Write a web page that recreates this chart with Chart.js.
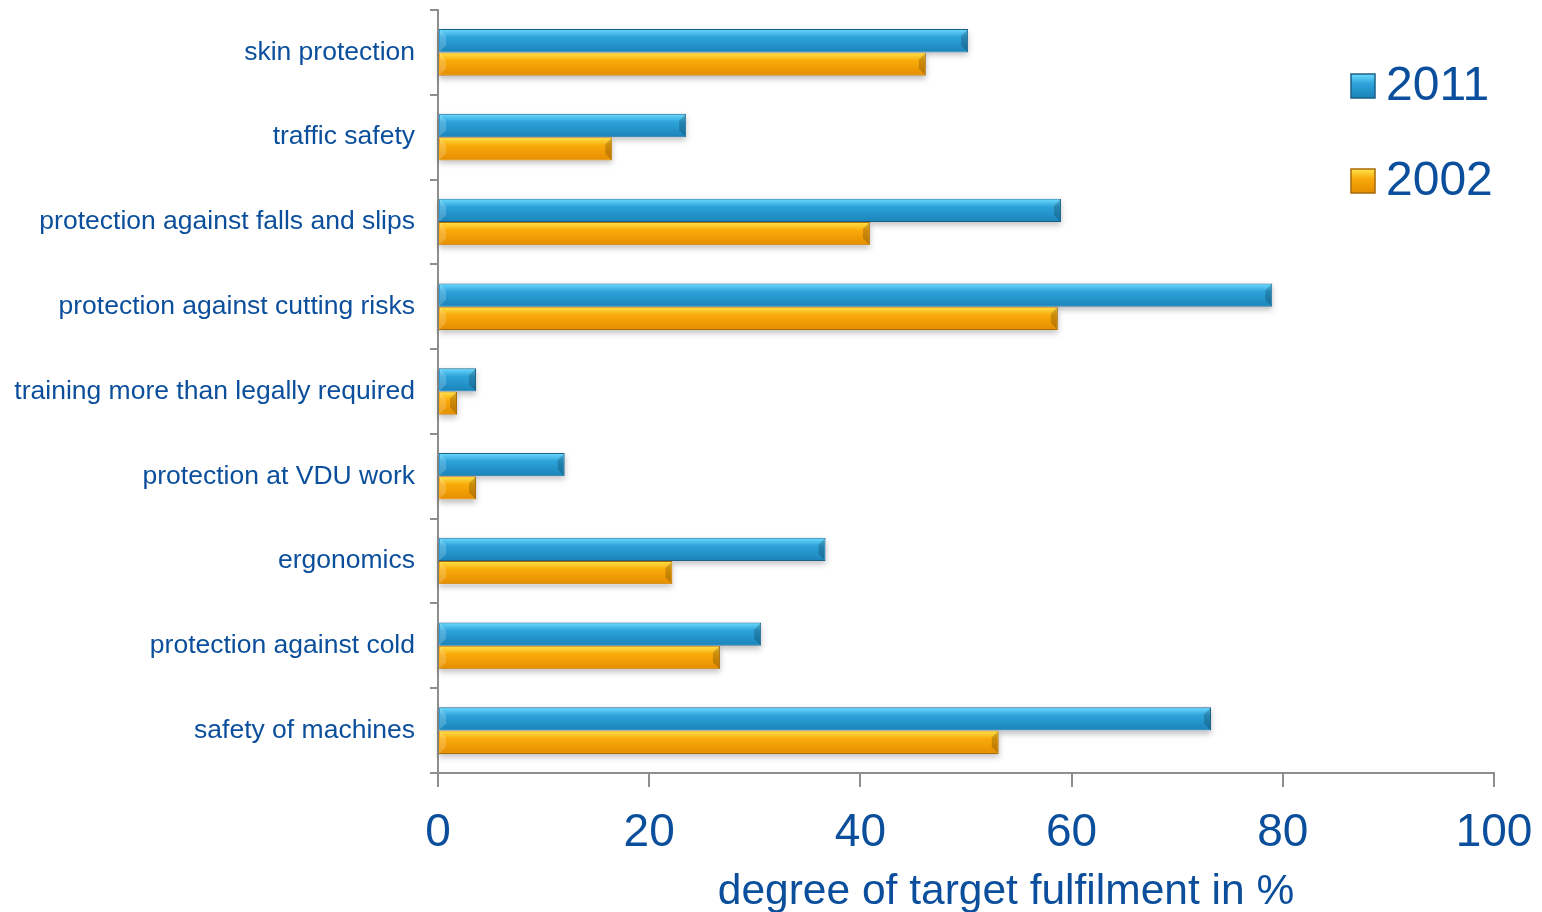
<!DOCTYPE html>
<html>
<head>
<meta charset="utf-8">
<script src="https://cdn.jsdelivr.net/npm/chart.js@4.4.1/dist/chart.umd.min.js"></script>
<style>
  html, body { margin: 0; padding: 0; background: #fff; }
  #wrap { width: 1542px; height: 912px; position: relative; }
</style>
</head>
<body>
<div id="wrap"><canvas id="chart"></canvas></div>
<script>
const categories = [
  'skin protection',
  'traffic safety',
  'protection against falls and slips',
  'protection against cutting risks',
  'training more than legally required',
  'protection at VDU work',
  'ergonomics',
  'protection against cold',
  'safety of machines'
];
const values2011 = [50.2, 23.5, 59.0, 79.0, 3.6, 12.0, 36.7, 30.6, 73.2];
const values2002 = [46.2, 16.5, 40.9, 58.7, 1.8, 3.6, 22.2, 26.7, 53.1];
const xTicks = [0, 20, 40, 60, 80, 100];
const xTitle = 'degree of target fulfilment in %';

const textColor = '#0b4f9c';
const axisColor = '#8e8e8e';
const fontFamily = "'Liberation Sans', Arial, sans-serif";

// colours for the bevelled bar look: top highlight, middle, bottom, border
const palette = {
  '2011': { top: '#6fdcff', mid: '#2da3da', bot: '#1a83b8', border: '#1c5f86' },
  '2002': { top: '#ffe44d', mid: '#f9ab0a', bot: '#e58d00', border: '#a96a0a' }
};

const bevelBars = {
  id: 'bevelBars',
  beforeDatasetsDraw(chart) {
    // soft shadow under each bar
    const ctx = chart.ctx;
    ctx.save();
    chart.data.datasets.forEach((ds, i) => {
      chart.getDatasetMeta(i).data.forEach(bar => {
        const left = Math.min(bar.base, bar.x), right = Math.max(bar.base, bar.x);
        const top = bar.y - bar.height / 2;
        ctx.shadowColor = 'rgba(0,0,0,0.25)';
        ctx.shadowBlur = 6;
        ctx.shadowOffsetY = 3;
        ctx.fillStyle = '#fff';
        ctx.fillRect(left, top, right - left, bar.height);
      });
    });
    ctx.restore();
  },
  afterDatasetsDraw(chart) {
    const ctx = chart.ctx;
    chart.data.datasets.forEach((ds, i) => {
      const c = palette[ds.label];
      chart.getDatasetMeta(i).data.forEach(bar => {
        const left = Math.min(bar.base, bar.x), right = Math.max(bar.base, bar.x);
        const top = bar.y - bar.height / 2, h = bar.height;
        const w = right - left;
        ctx.save();
        const g = ctx.createLinearGradient(0, top, 0, top + h);
        g.addColorStop(0, c.top);
        g.addColorStop(0.35, c.mid);
        g.addColorStop(1, c.bot);
        ctx.fillStyle = g;
        ctx.fillRect(left + 1, top + 1, w - 2, h - 2);
        // darker right bevel
        const b = Math.min(6, w / 2);
        ctx.fillStyle = 'rgba(0,0,0,0.18)';
        ctx.beginPath();
        ctx.moveTo(right - 1, top + 1);
        ctx.lineTo(right - 1, top + h - 1);
        ctx.lineTo(right - 1 - b, top + h - 1 - b);
        ctx.lineTo(right - 1 - b, top + 1 + b);
        ctx.closePath();
        ctx.fill();
        // lighter left bevel
        ctx.fillStyle = 'rgba(255,255,255,0.18)';
        ctx.beginPath();
        ctx.moveTo(left + 1, top + 1);
        ctx.lineTo(left + 1 + b, top + 1 + b);
        ctx.lineTo(left + 1 + b, top + h - 1 - b);
        ctx.lineTo(left + 1, top + h - 1);
        ctx.closePath();
        ctx.fill();
        ctx.restore();
      });
    });
  }
};

const sideLegend = {
  id: 'sideLegend',
  afterDraw(chart) {
    const ctx = chart.ctx;
    const x0 = chart.chartArea.right - 143;
    ctx.save();
    chart.data.datasets.forEach((ds, i) => {
      const c = palette[ds.label];
      const cy = 86 + i * 95;
      const s = 24;
      const g = ctx.createLinearGradient(0, cy - s / 2, 0, cy + s / 2);
      g.addColorStop(0, c.top);
      g.addColorStop(0.4, c.mid);
      g.addColorStop(1, c.bot);
      ctx.fillStyle = g;
      ctx.fillRect(x0, cy - s / 2, s, s);
      ctx.strokeStyle = c.border;
      ctx.lineWidth = 1.5;
      ctx.strokeRect(x0, cy - s / 2, s, s);
      ctx.fillStyle = textColor;
      ctx.font = '48px ' + fontFamily;
      ctx.textBaseline = 'middle';
      ctx.textAlign = 'left';
      ctx.fillText(ds.label, x0 + 35, cy + 1);
    });
    ctx.restore();
  }
};

const xAxisTitle = {
  id: 'xAxisTitle',
  afterDraw(chart) {
    const ctx = chart.ctx;
    const a = chart.chartArea;
    ctx.save();
    ctx.fillStyle = textColor;
    ctx.font = '42.5px ' + fontFamily;
    ctx.textAlign = 'center';
    ctx.textBaseline = 'middle';
    ctx.fillText(xTitle, (a.left + a.right) / 2 + 40, 892);
    ctx.restore();
  }
};

new Chart(document.getElementById('chart'), {
  type: 'bar',
  data: {
    labels: categories,
    datasets: [
      {
        label: '2011',
        data: values2011,
        backgroundColor: palette['2011'].mid,
        borderColor: palette['2011'].border,
        borderWidth: 1
      },
      {
        label: '2002',
        data: values2002,
        backgroundColor: palette['2002'].mid,
        borderColor: palette['2002'].border,
        borderWidth: 1
      }
    ]
  },
  options: {
    indexAxis: 'y',
    responsive: true,
    maintainAspectRatio: false,
    animation: false,
    layout: { padding: { left: 0, right: 48, top: 10, bottom: 0 } },
    datasets: {
      bar: { categoryPercentage: 0.55, barPercentage: 1.0 }
    },
    scales: {
      x: {
        min: 0,
        max: 100,
        afterBuildTicks(scale) {
          scale.ticks = xTicks.map(v => ({ value: v }));
        },
        afterFit(scale) {
          scale.height = 139;
          scale.paddingLeft = 0;
          scale.paddingRight = 0;
        },
        border: { display: true, color: axisColor, width: 2 },
        grid: { drawOnChartArea: false, tickLength: 14, color: axisColor, lineWidth: 2 },
        ticks: {
          color: textColor,
          font: { family: fontFamily, size: 46 },
          padding: 19,
          maxRotation: 0
        }
      },
      y: {
        afterFit(scale) {
          scale.width = 438;
          scale.paddingTop = 0;
          scale.paddingBottom = 0;
        },
        border: { display: true, color: axisColor, width: 2 },
        grid: { offset: true, drawOnChartArea: false, tickLength: 8, color: axisColor, lineWidth: 2 },
        ticks: {
          color: textColor,
          font: { family: fontFamily, size: 26.5 },
          padding: 15,
          autoSkip: false
        }
      }
    },
    plugins: {
      legend: { display: false },
      tooltip: { enabled: false }
    }
  },
  plugins: [bevelBars, sideLegend, xAxisTitle]
});
</script>
</body>
</html>
